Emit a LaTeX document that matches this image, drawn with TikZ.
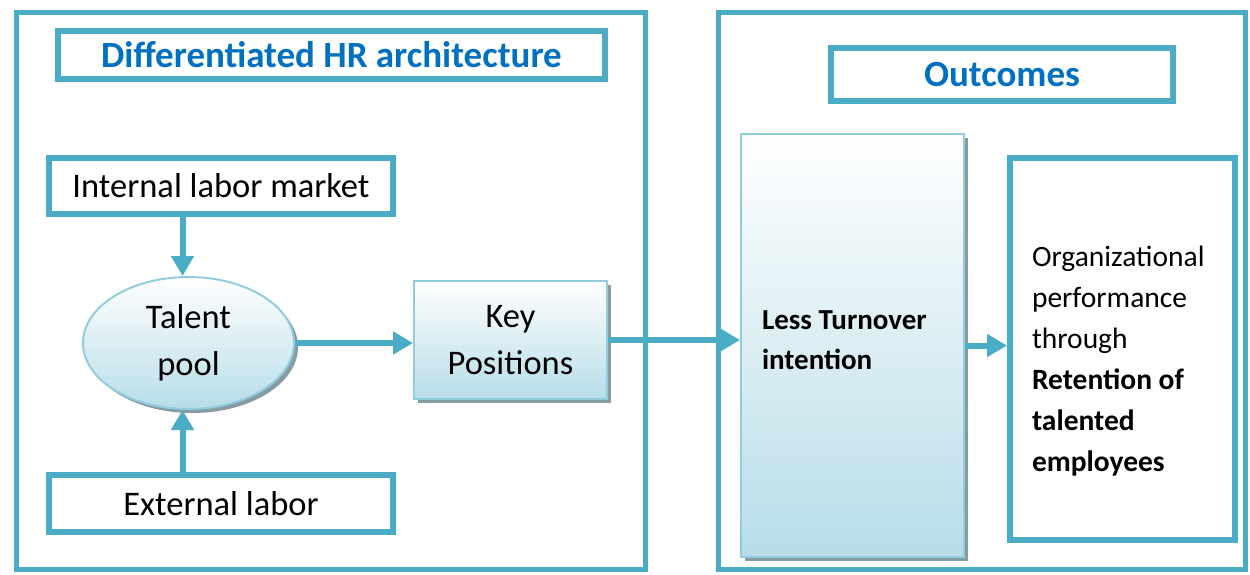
\documentclass[tikz,border=0pt]{standalone}
\usepackage{fontspec}
\setmainfont{Carlito}
\usetikzlibrary{shapes.geometric,arrows.meta,positioning,shadows,calc}
\definecolor{frame}{RGB}{75,172,198}
\definecolor{titleblue}{RGB}{0,112,192}
\definecolor{softedge}{RGB}{146,205,221}
\definecolor{softfill}{RGB}{183,221,232}
\definecolor{shade}{RGB}{135,155,165}

\begin{document}
\begin{tikzpicture}[x=1pt,y=-1pt,
  outer/.style={draw=frame,line width=5pt,inner sep=0pt},
  hdr/.style={draw=frame,line width=6pt,text=titleblue,font=\fontsize{37}{44}\selectfont\bfseries},
  src/.style={draw=frame,line width=6pt,minimum width=344pt,font=\fontsize{34.5}{40}\selectfont},
  soft/.style={draw=softedge,line width=2pt,top color=white,bottom color=softfill,
    drop shadow={shadow xshift=4pt,shadow yshift=-4pt,fill=shade,opacity=1}},
  a/.style={-{Triangle[length=20pt,width=22pt]},line width=6pt,color=frame}]
  \useasboundingbox (0,0) rectangle (1250,574);
  % frames
  \node[outer,minimum width=629pt,minimum height=557pt] (lf) at (331,291) {};
  \node[outer,minimum width=527pt,minimum height=557pt] (rf) at (982,291) {};
  \node[hdr,minimum width=547pt,minimum height=48pt] (hra) at (331.5,55) {Differentiated HR architecture};
  \node[hdr,minimum width=342pt,minimum height=53pt] (out) at (1002,74.5) {Outcomes};
  % left side
  \node[src,minimum height=56pt] (int) at (221,186) {Internal labor market};
  \node[src,minimum height=57pt] (ext) at (221,503.5) {External labor};
  \node[soft,ellipse,minimum width=211pt,minimum height=132pt,inner sep=0pt,align=center,
    font=\fontsize{34.5}{47}\selectfont] (pool) at (188.5,343) {Talent\\pool};
  \node[soft,minimum width=193pt,minimum height=118pt,align=center,
    font=\fontsize{34.5}{47}\selectfont] (key) at (510.5,340) {Key\\Positions};
  % right side
  \node[soft,minimum width=223pt,minimum height=423pt,text width=181pt,align=flush left,
    font=\fontsize{29}{40}\selectfont\bfseries] (lt) at (852.5,345.5) {Less Turnover\\intention\rule[-10pt]{0pt}{0pt}};
  \node[draw=frame,line width=6pt,minimum width=225pt,minimum height=382pt,text width=181pt,
    align=flush left,font=\fontsize{29.5}{41}\selectfont] (org) at (1122.5,349)
    {\rule{0pt}{44pt}Organizational\\performance\\through\\\textbf{Retention of}\\\textbf{talented}\\\textbf{employees}};
  % connectors
  \draw[a] ([xshift=-6pt]pool.north |- int.south) -- ([xshift=-6pt]pool.north);
  \draw[a] ([xshift=-6pt]pool.south |- ext.north) -- ([xshift=-6pt]pool.south);
  \draw[a] (pool.east) -- (pool.east -| key.west);
  \draw[a] (key.east) -- (key.east -| lt.west);
  \draw[a] (lt.east) -- (lt.east -| org.west);
\end{tikzpicture}
\end{document}
